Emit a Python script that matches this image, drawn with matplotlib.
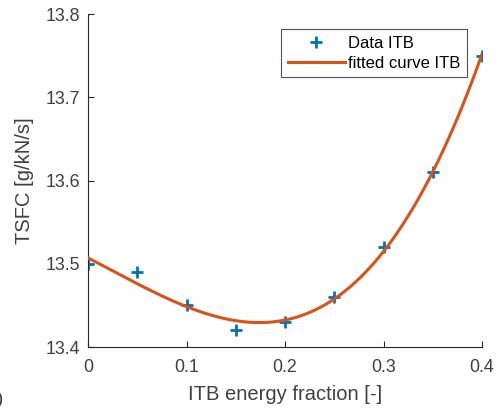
import numpy as np
import matplotlib.pyplot as plt

plt.rcParams['font.family'] = ['Liberation Sans', 'DejaVu Sans']

# data
itb_fraction = [0.0, 0.05, 0.1, 0.15, 0.2, 0.25, 0.3, 0.35, 0.4]
tsfc = [13.50, 13.49, 13.45, 13.42, 13.43, 13.46, 13.52, 13.61, 13.75]

# fitted curve (cubic polynomial through the data)
coef = np.polyfit(itb_fraction, tsfc, 3)
x_fit = np.linspace(0, 0.4, 200)
y_fit = np.polyval(coef, x_fit)

fig = plt.figure(figsize=(5.01, 4.08), dpi=100)
ax = fig.add_axes([88/501, 1 - 347/408, (482-88)/501, (347-14)/408])

ax.plot(itb_fraction, tsfc, '+', color='#0072BD', markersize=9, markeredgewidth=2,
        label='Data ITB', zorder=2)
ax.plot(x_fit, y_fit, '-', color='#D95319', linewidth=2.2, label='fitted curve ITB', zorder=3)

ax.set_xlim(0, 0.4)
ax.set_ylim(13.4, 13.8)
ax.set_xticks([0, 0.1, 0.2, 0.3, 0.4])
ax.set_xticklabels(['0', '0.1', '0.2', '0.3', '0.4'])
ax.set_yticks([13.4, 13.5, 13.6, 13.7, 13.8])
ax.set_yticklabels(['13.4', '13.5', '13.6', '13.7', '13.8'])

ax.spines['top'].set_visible(False)
ax.spines['right'].set_visible(False)
for s in ['left', 'bottom']:
    ax.spines[s].set_color('#262626')
    ax.spines[s].set_linewidth(0.8)
ax.tick_params(direction='in', length=4, width=0.8, colors='#262626',
               labelcolor='#404040', labelsize=12.8)
ax.tick_params(axis='x', pad=9)
ax.tick_params(axis='y', pad=6)

ax.set_xlabel('ITB energy fraction [-]', fontsize=14.5, color='#404040', labelpad=6)
ax.set_ylabel('TSFC [g/kN/s]', fontsize=14.5, color='#404040', labelpad=8)

leg = ax.legend(loc='upper right', bbox_to_anchor=(0.962, 0.955), borderaxespad=0,
                fontsize=12, frameon=True, fancybox=False, edgecolor='#262626',
                borderpad=0.4, handlelength=3.4, labelspacing=0.3, handletextpad=0.2)
leg.get_frame().set_linewidth(0.8)

fig.text(4/501, 1 - 399/408, 'b)', ha='right', va='center', fontsize=14, color='#404040')

fig.savefig('out.png', dpi=100)
